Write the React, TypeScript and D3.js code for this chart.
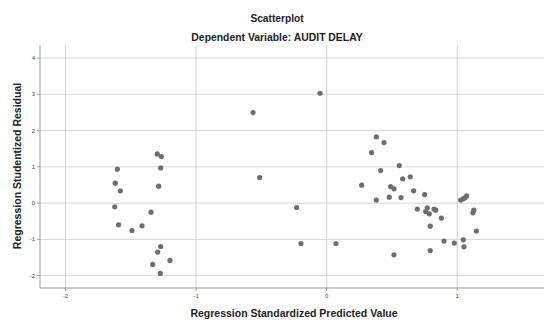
import React from "react";
import * as d3 from "d3";

const predicted: number[] = [
  -1.297, -1.266, -1.271, -1.603, -1.619, -1.58, -1.286, -1.623, -1.345, -1.593, -1.491, -1.414, -1.271, -1.294, -1.2, -1.332, -1.274,
  -0.051, -0.564, -0.513, -0.23, -0.197, 0.071,
  0.38, 0.439, 0.344, 0.413, 0.556, 0.268, 0.582, 0.64, 0.49, 0.515, 0.666, 0.75, 0.38, 0.479, 0.569,
  0.694, 0.77, 0.758, 0.786, 0.822, 0.835, 0.878, 0.793, 0.898, 0.977, 1.046, 1.051, 0.793, 0.515,
  1.026, 1.046, 1.061, 1.072, 1.126, 1.12, 1.146,
];
const residual: number[] = [
  1.358, 1.284, 0.972, 0.937, 0.551, 0.339, 0.468, -0.102, -0.248, -0.598, -0.755, -0.625, -1.196, -1.35, -1.581, -1.691, -1.939,
  3.03, 2.496, 0.705, -0.121, -1.113, -1.113,
  1.826, 1.67, 1.394, 0.898, 1.036, 0.496, 0.669, 0.725, 0.457, 0.394, 0.339, 0.237, 0.083, 0.165, 0.154,
  -0.165, -0.129, -0.231, -0.295, -0.165, -0.193, -0.413, -0.634, -1.047, -1.102, -1.011, -1.204, -1.306, -1.424,
  0.083, 0.118, 0.154, 0.201, -0.193, -0.267, -0.771,
];
const xTicks: number[] = [-2, -1, 0, 1];
const yTicks: number[] = [-2, -1, 0, 1, 2, 3, 4];

const W = 544;
const H = 320;
const left = 40;
const right = 544;
const top = 45;
const bottom = 288;

export default function App() {
  const x = d3.scaleLinear().domain([-2.195, 1.664]).range([left, right]);
  const y = d3.scaleLinear().domain([-2.34, 4.36]).range([bottom, top]);
  const font = "'Liberation Sans', Arial, sans-serif";
  return (
    <svg width={W} height={H} style={{ position: "absolute", left: 0, top: 0, background: "#fff" }} fontFamily={font}>
      <rect x={0} y={0} width={W} height={H} fill="#fff" />
      <text x={277} y={21.5} textAnchor="middle" fontSize={10.2} fontWeight="bold" fill="#222">Scatterplot</text>
      <text x={277} y={41} textAnchor="middle" fontSize={10.4} fill="#222" fontWeight="bold">Dependent Variable: AUDIT DELAY</text>
      {yTicks.map((t) => (
        <line key={"gy" + t} x1={left} x2={right} y1={y(t)} y2={y(t)} stroke="#d6d6d6" strokeWidth={1} />
      ))}
      {xTicks.map((t) => (
        <line key={"gx" + t} x1={x(t)} x2={x(t)} y1={top} y2={bottom} stroke="#d0d0d0" strokeWidth={1} />
      ))}
      <line x1={left} x2={left} y1={top} y2={bottom} stroke="#999" strokeWidth={1} />
      <line x1={left} x2={right} y1={bottom} y2={bottom} stroke="#999" strokeWidth={1} />
      {yTicks.map((t) => (
        <g key={"ty" + t}>
          <line x1={left - 3} x2={left} y1={y(t)} y2={y(t)} stroke="#999" />
          <text x={left - 5} y={y(t) + 2} textAnchor="end" fontSize={6} fill="#444">{t}</text>
        </g>
      ))}
      {xTicks.map((t) => (
        <g key={"tx" + t}>
          <line x1={x(t)} x2={x(t)} y1={bottom} y2={bottom + 3} stroke="#999" />
          <text x={x(t)} y={bottom + 10} textAnchor="middle" fontSize={6} fill="#444">{t}</text>
        </g>
      ))}
      {predicted.map((p, i) => (
        <circle key={i} cx={x(p)} cy={y(residual[i])} r={2.6} fill="#6e6e6e" />
      ))}
      <text x={294} y={317} textAnchor="middle" fontSize={10.5} fontWeight="bold" fill="#222">Regression Standardized Predicted Value</text>
      <text transform={`translate(20.5,166) rotate(-90)`} textAnchor="middle" fontSize={10.5} fontWeight="bold" fill="#222">Regression Studentized Residual</text>
    </svg>
  );
}
